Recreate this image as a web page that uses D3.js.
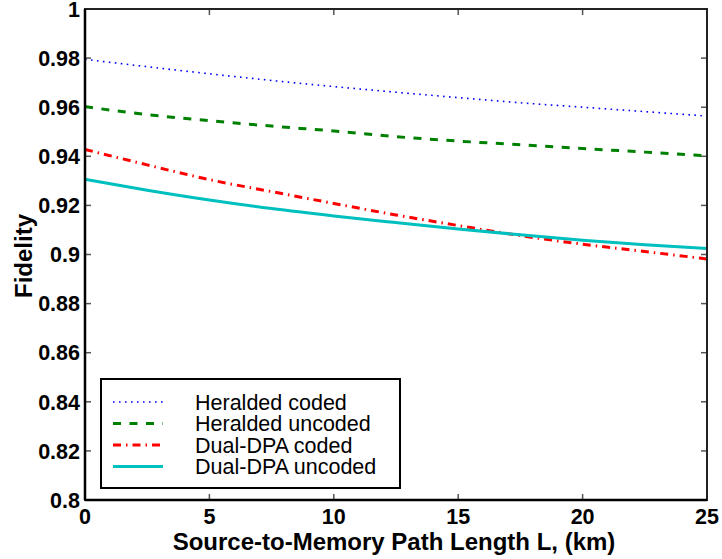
<!DOCTYPE html>
<html>
<head>
<meta charset="utf-8">
<script src="https://cdn.jsdelivr.net/npm/d3@7"></script>
<style>
  body { margin: 0; background: #fff; }
  svg { font-family: "Liberation Sans", Arial, sans-serif; }
</style>
</head>
<body>
<div id="chart"></div>
<script>
// values
var lengths = [0, 2.5, 5, 7.5, 10, 12.5, 15, 17.5, 20, 22.5, 25];
var heraldedCoded   = [0.9795, 0.9765, 0.9736, 0.9709, 0.9684, 0.9661, 0.9639, 0.9618, 0.9600, 0.9582, 0.9564];
var heraldedUncoded = [0.9602, 0.9570, 0.9545, 0.9523, 0.9503, 0.9480, 0.9462, 0.9447, 0.9432, 0.9417, 0.9402];
var dualCoded       = [0.9428, 0.9365, 0.9305, 0.9256, 0.9208, 0.9161, 0.9118, 0.9077, 0.9042, 0.9012, 0.8982];
var dualUncoded     = [0.9306, 0.9262, 0.9222, 0.9187, 0.9157, 0.9130, 0.9104, 0.9080, 0.9058, 0.9040, 0.9024];
var seriesNames = ["Heralded coded", "Heralded uncoded", "Dual-DPA coded", "Dual-DPA uncoded"];
var xTicks = [0, 5, 10, 15, 20, 25];
var yTicks = [0.8, 0.82, 0.84, 0.86, 0.88, 0.9, 0.92, 0.94, 0.96, 0.98, 1];

var W = 722, H = 559;
var margin = { top: 9, right: 15, bottom: 59, left: 85 };
var w = W - margin.left - margin.right;
var h = H - margin.top - margin.bottom;

var styles = [
  { color: "#0000ff", width: 1.6, dash: "1.6,4.4" },
  { color: "#008000", width: 3, dash: "8,8.5" },
  { color: "#ff0000", width: 3, dash: "8,5,1.5,5" },
  { color: "#00bfbf", width: 3, dash: null }
];
var allSeries = [heraldedCoded, heraldedUncoded, dualCoded, dualUncoded];

var svg = d3.select("#chart").append("svg")
  .attr("width", W).attr("height", H);

var g = svg.append("g")
  .attr("transform", "translate(" + margin.left + "," + margin.top + ")");

var x = d3.scaleLinear().domain([0, 25]).range([0, w]);
var y = d3.scaleLinear().domain([0.8, 1]).range([h, 0]);

// tick marks (inside, all four sides)
var tickLen = 6;
xTicks.forEach(function (t) {
  g.append("line").attr("x1", x(t)).attr("x2", x(t)).attr("y1", h).attr("y2", h - tickLen)
    .attr("stroke", "#555").attr("stroke-width", 1.5);
  g.append("line").attr("x1", x(t)).attr("x2", x(t)).attr("y1", 0).attr("y2", tickLen)
    .attr("stroke", "#555").attr("stroke-width", 1.5);
});
yTicks.forEach(function (t) {
  g.append("line").attr("x1", 0).attr("x2", tickLen).attr("y1", y(t)).attr("y2", y(t))
    .attr("stroke", "#555").attr("stroke-width", 1.5);
  g.append("line").attr("x1", w).attr("x2", w - tickLen).attr("y1", y(t)).attr("y2", y(t))
    .attr("stroke", "#555").attr("stroke-width", 1.5);
});

// curves
var line = d3.line()
  .x(function (d, i) { return x(lengths[i]); })
  .y(function (d) { return y(d); })
  .curve(d3.curveMonotoneX);

allSeries.forEach(function (s, k) {
  g.append("path")
    .attr("d", line(s))
    .attr("fill", "none")
    .attr("stroke", styles[k].color)
    .attr("stroke-width", styles[k].width)
    .attr("stroke-dasharray", styles[k].dash);
});

// frame
g.append("rect").attr("x", 0).attr("y", 0).attr("width", w).attr("height", h)
  .attr("fill", "none").attr("stroke", "#222").attr("stroke-width", 2);
g.append("line").attr("x1", 0).attr("x2", 0).attr("y1", 0).attr("y2", h)
  .attr("stroke", "#000").attr("stroke-width", 2.5);
g.append("line").attr("x1", 0).attr("x2", w).attr("y1", h).attr("y2", h)
  .attr("stroke", "#000").attr("stroke-width", 2.5);

// tick labels
g.selectAll(".xl").data(xTicks).enter().append("text")
  .attr("x", function (d) { return x(d); })
  .attr("y", h + 23.5)
  .attr("text-anchor", "middle")
  .attr("font-size", "21.5px").attr("font-weight", "bold")
  .text(function (d) { return d; });

g.selectAll(".yl").data(yTicks).enter().append("text")
  .attr("x", -5)
  .attr("y", function (d) { return y(d); })
  .attr("dy", "0.36em")
  .attr("text-anchor", "end")
  .attr("font-size", "21.5px").attr("font-weight", "bold")
  .text(function (d) { return d3.format("~g")(d); });

// axis titles
svg.append("text")
  .attr("x", 394).attr("y", 550)
  .attr("text-anchor", "middle")
  .attr("font-size", "24px").attr("font-weight", "bold")
  .text("Source-to-Memory Path Length L, (km)");

svg.append("text")
  .attr("transform", "translate(32,256) rotate(-90)")
  .attr("text-anchor", "middle")
  .attr("font-size", "24px").attr("font-weight", "bold")
  .text("Fidelity");

// legend
var legend = svg.append("g").attr("transform", "translate(101,379)");
legend.append("rect").attr("width", 299).attr("height", 109)
  .attr("fill", "#fff").attr("stroke", "#000").attr("stroke-width", 2);
seriesNames.forEach(function (name, k) {
  var ly = 23 + k * 21.5;
  legend.append("line").attr("x1", 12).attr("x2", 62).attr("y1", ly).attr("y2", ly)
    .attr("stroke", styles[k].color)
    .attr("stroke-width", styles[k].width)
    .attr("stroke-dasharray", styles[k].dash);
  legend.append("text").attr("x", 94).attr("y", ly).attr("dy", "0.36em")
    .attr("font-size", "21.5px")
    .text(name);
});
</script>
</body>
</html>
